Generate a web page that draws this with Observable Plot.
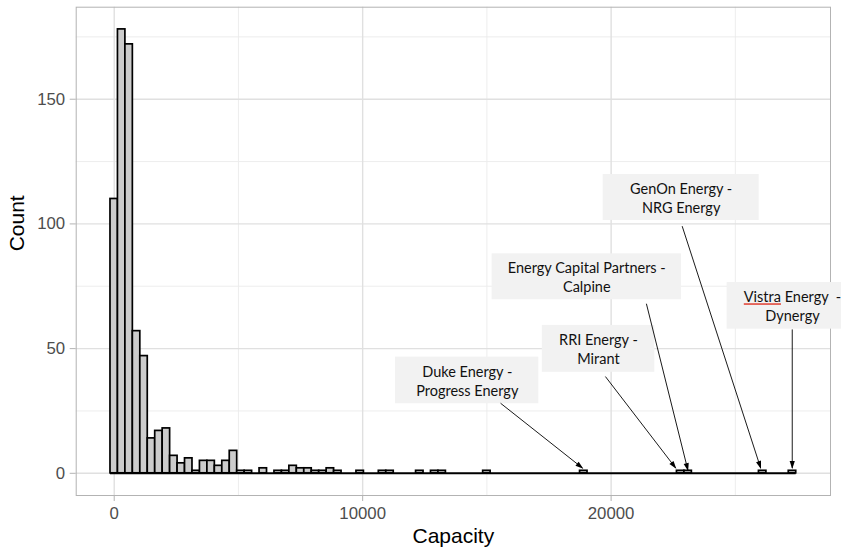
<!DOCTYPE html>
<html><head><meta charset="utf-8">
<script src="https://cdn.jsdelivr.net/npm/d3@7"></script>
<script src="https://cdn.jsdelivr.net/npm/@observablehq/plot@0.6"></script>
<style>body{margin:0;background:#fff}</style>
</head><body><div id="chart"></div>
<script>
// Histogram of merger capacity (bin width 300, bins centred on multiples of 300)
const binWidth = 300;
const binCenters = [0,300,600,900,1200,1500,1800,2100,2400,2700,3000,3300,3600,3900,4200,4500,4800,5100,5400,6000,6600,6900,7200,7500,7800,8100,8400,8700,9000,9900,10800,11100,12300,12900,13200,15000,18900,22800,23100,26100,27300];
const counts     = [110,178,172,57,47,14,17,18,7,4,6,1,5,5,3,5,9,1,1,2,1,1,3,2,2,1,1,2,1,1,1,1,1,1,1,1,1,1,1,1,1];

const xTicks = [0, 10000, 20000];
const xMinor = [5000, 15000, 25000];
const yTicks = [0, 50, 100, 150];
const yMinor = [25, 75, 125, 175];

// annotations
const annLabels = ["Duke Energy -\nProgress Energy", "RRI Energy -\nMirant", "Energy Capital Partners -\nCalpine", "GenOn Energy -\nNRG Energy", "Vistra Energy  -\nDynergy"];
const annTipX   = [18850, 22600, 23090, 26020, 27290];
const annTipY   = [2.1, 2.1, 1.3, 2.1, 2.1];
const annFromX  = [15550, 19770, 21420, 22860, 27290];
const annFromY  = [28.1, 38.8, 68.0, 99.1, 57.7];
const boxX1 = [11320, 17230, 15210, 19680, 24670];
const boxX2 = [17090, 21760, 22830, 25960, 29920];
const boxY1 = [27.9, 40.5, 69.6, 101.4, 57.8];
const boxY2 = [46.6, 59.3, 88.0, 119.8, 76.5];
const labelX = [14210, 19490, 19020, 22820, 27300];
const labelY = [37.2, 49.9, 78.8, 110.6, 67.2];

const bins = binCenters.map((c, i) => ({x1: c - binWidth / 2, x2: c + binWidth / 2, count: counts[i]}));
const anns = annLabels.map((t, i) => ({
  text: t, tipX: annTipX[i], tipY: annTipY[i], fromX: annFromX[i], fromY: annFromY[i],
  bx1: boxX1[i], bx2: boxX2[i], by1: boxY1[i], by2: boxY2[i], lx: labelX[i], ly: labelY[i]
}));
const xMin = d3.min(bins, d => d.x1), xMax = d3.max(bins, d => d.x2);
const yMax = d3.max(counts);
const xPad = (xMax - xMin) * 0.05, yPad = yMax * 0.05;

const font = "'Liberation Sans', Arial, sans-serif";
const chart = Plot.plot({
  width: 841, height: 550,
  marginLeft: 75.7, marginRight: 11, marginTop: 6.7, marginBottom: 55,
  style: {fontFamily: font, fontSize: "16.8px", background: "#fff"},
  x: {domain: [xMin - xPad, xMax + xPad]},
  y: {domain: [-yPad, yMax + yPad]},
  marks: [
    Plot.gridX(xMinor, {stroke: "#ebebeb", strokeOpacity: 1, strokeWidth: 0.9}),
    Plot.gridY(yMinor, {stroke: "#ebebeb", strokeOpacity: 1, strokeWidth: 0.9}),
    Plot.gridX(xTicks, {stroke: "#e0e0e0", strokeOpacity: 1, strokeWidth: 1.4}),
    Plot.gridY(yTicks, {stroke: "#e0e0e0", strokeOpacity: 1, strokeWidth: 1.4}),
    Plot.rect(bins, {x1: "x1", x2: "x2", y1: 0, y2: "count", fill: "#cccccc", stroke: "black", strokeWidth: 1.7}),
    Plot.ruleY([0], {x1: xMin, x2: xMax, stroke: "black", strokeWidth: 2}),
    Plot.frame({stroke: "#b3b3b3", strokeWidth: 1}),
    Plot.axisX({ticks: xTicks, tickFormat: d3.format("d"), tickSize: 6, tickPadding: 6, stroke: "#b3b3b3", fill: "#4d4d4d", label: null}),
    Plot.axisY({ticks: yTicks, tickFormat: d3.format("d"), tickSize: 6, tickPadding: 5, stroke: "#b3b3b3", fill: "#4d4d4d", label: null}),
    Plot.text(["Capacity"], {frameAnchor: "bottom", text: d => d, dy: 40.7, lineAnchor: "middle", fontSize: 21, fill: "black"}),
    Plot.text(["Count"], {frameAnchor: "left", text: d => d, dx: -59, rotate: -90, fontSize: 21, fill: "black"}),
    Plot.rect(anns, {x1: "bx1", x2: "bx2", y1: "by1", y2: "by2", fill: "#f2f2f2"}),
    Plot.text(anns, {x: "lx", y: "ly", text: "text", fontFamily: "Lato, 'Open Sans', sans-serif", fontSize: 14.5, lineHeight: 1.31, fill: "#111"}),
    Plot.link(anns, {x1: "fromX", y1: "fromY", x2: "tipX", y2: "tipY", stroke: "black", strokeWidth: 0.9, markerEnd: "arrow"})
  ]
});
// filled triangular arrowheads
d3.select(chart).selectAll("marker").each(function() {
  const m = d3.select(this);
  m.attr("markerUnits", "userSpaceOnUse").attr("viewBox", "-8 -5 10 10")
   .attr("markerWidth", 10).attr("markerHeight", 10)
   .attr("fill", "black").attr("stroke", "none");
  m.selectAll("path").attr("d", "M-7,-2.6L1,0L-7,2.6Z").attr("fill", "black").attr("stroke", "none");
});
d3.select(chart).selectAll("text").filter(function() { return /Energy|Mirant|Calpine|Dynergy/.test(this.textContent); })
  .style("white-space", "pre");
// spell-check underline under "Vistra", as in the reference (red line, black glyphs)
d3.select(chart).selectAll("tspan").filter(function() { return this.textContent.startsWith("Vistra"); })
  .each(function() {
    const rest = this.textContent.slice("Vistra".length);
    const t = d3.select(this);
    t.text(null);
    t.append("tspan").attr("fill", "#e0392b")
      .style("text-decoration", "underline dotted").style("text-underline-offset", "2px")
      .append("tspan").attr("fill", "#111").style("text-decoration", "none").text("Vistra");
    t.append("tspan").text(rest);
  });
document.getElementById("chart").appendChild(chart);
</script>
</body></html>
